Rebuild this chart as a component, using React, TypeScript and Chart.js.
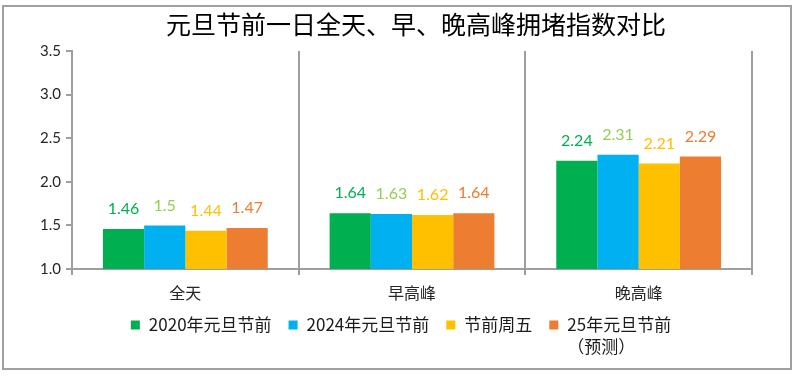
import React, { useEffect, useRef } from "react";
import { Chart, registerables } from "chart.js";

Chart.register(...registerables);

const categories = ["全天", "早高峰", "晚高峰"];
const series2020 = [1.46, 1.64, 2.24];
const series2024 = [1.5, 1.63, 2.31];
const seriesFriday = [1.44, 1.62, 2.21];
const series2025 = [1.47, 1.64, 2.29];
const seriesNames = ["2020年元旦节前", "2024年元旦节前", "节前周五", "25年元旦节前\n（预测）"];
const barColors = ["#00B050", "#00B0F0", "#FFC000", "#ED7D31"];
const labelColors = ["#00B050", "#92D050", "#FFC000", "#ED7D31"];
const titleText = "元旦节前一日全天、早、晚高峰拥堵指数对比";
const yMin = 1.0;
const yMax = 3.5;
const yStep = 0.5;

const CJK = '"Noto Sans CJK SC", "Noto Sans", sans-serif';
const NUM = 'Lato, "Open Sans", sans-serif';

const customPlugin = {
  id: "customDraw",
  afterDatasetsDraw(chart: any) {
    const ctx = chart.ctx;
    ctx.save();
    ctx.textAlign = "center";
    ctx.textBaseline = "middle";
    ctx.font = `16px ${NUM}`;
    chart.data.datasets.forEach((ds: any, i: number) => {
      const meta = chart.getDatasetMeta(i);
      meta.data.forEach((el: any, j: number) => {
        ctx.fillStyle = labelColors[i];
        ctx.fillText(String(ds.data[j]), el.x, el.y - 20);
      });
    });
    ctx.restore();
  },
  afterDraw(chart: any) {
    const ctx = chart.ctx;
    const area = chart.chartArea;
    ctx.save();
    // title
    ctx.fillStyle = "#000000";
    ctx.font = `25px ${CJK}`;
    ctx.textAlign = "center";
    ctx.textBaseline = "middle";
    ctx.fillText(titleText, (area.left + area.right) / 2 + 4, 24);
    // legend
    ctx.font = `17px ${CJK}`;
    ctx.textAlign = "left";
    const sq = 9;
    const gapSq = 9;
    const gapItem = 17;
    const firstLineWidths = seriesNames.map((n) => ctx.measureText(n.split("\n")[0]).width);
    let total = 0;
    seriesNames.forEach((_, i) => {
      total += sq + gapSq + firstLineWidths[i];
      if (i < seriesNames.length - 1) total += gapItem;
    });
    let x = 401 - total / 2;
    const y1 = 325;
    const lh = 22;
    seriesNames.forEach((n, i) => {
      ctx.fillStyle = barColors[i];
      ctx.fillRect(x, y1 - sq / 2, sq, sq);
      ctx.fillStyle = "#1a1a1a";
      const lines = n.split("\n");
      lines.forEach((l, k) => {
        ctx.fillText(l, x + sq + gapSq, y1 + k * lh);
      });
      x += sq + gapSq + firstLineWidths[i] + gapItem;
    });
    ctx.restore();
  },
};

export default function App() {
  const ref = useRef<HTMLCanvasElement>(null);
  useEffect(() => {
    if (!ref.current) return;
    const datasetsSrc = [series2020, series2024, seriesFriday, series2025];
    const chart = new Chart(ref.current, {
      type: "bar",
      data: {
        labels: categories,
        datasets: datasetsSrc.map((d, i) => ({
          label: seriesNames[i],
          data: d,
          backgroundColor: barColors[i],
          borderWidth: 0,
          categoryPercentage: 0.727,
          barPercentage: 1.0,
        })),
      },
      options: {
        responsive: false,
        animation: false,
        layout: { padding: { top: 51, left: 0, right: 47, bottom: 70 } },
        plugins: {
          legend: { display: false },
          title: { display: false },
          tooltip: { enabled: false },
        },
        scales: {
          x: {
            afterFit: (scale: any) => {
              scale.height = 40;
            },
            grid: {
              offset: true,
              drawOnChartArea: true,
              color: "#9e9e9e",
              lineWidth: 2,
              tickLength: 6,
            },
            border: { color: "#9e9e9e", width: 2 },
            ticks: {
              color: "#262626",
              font: { family: CJK, size: 16 },
              padding: 8,
            },
          },
          y: {
            min: yMin,
            max: yMax,
            afterFit: (scale: any) => {
              scale.width = 72;
            },
            grid: {
              drawOnChartArea: false,
              color: "#9e9e9e",
              lineWidth: 2,
              tickLength: 6,
            },
            border: { color: "#9e9e9e", width: 2 },
            ticks: {
              stepSize: yStep,
              color: "#262626",
              font: { family: NUM, size: 15 },
              padding: 5,
              callback: (v: any) => Number(v).toFixed(1),
            },
          },
        },
      },
      plugins: [customPlugin],
    });
    return () => chart.destroy();
  }, []);
  return (
    <div style={{ position: "fixed", left: 0, top: 0, width: 799, height: 379, background: "#fff" }}>
      <canvas ref={ref} width={799} height={379} style={{ position: "absolute", left: 0, top: 0 }} />
      <div
        style={{
          position: "absolute",
          left: 2,
          top: 5,
          width: 790,
          height: 365,
          border: "2px solid #a0a0a0",
          boxSizing: "border-box",
          pointerEvents: "none",
        }}
      />
    </div>
  );
}
